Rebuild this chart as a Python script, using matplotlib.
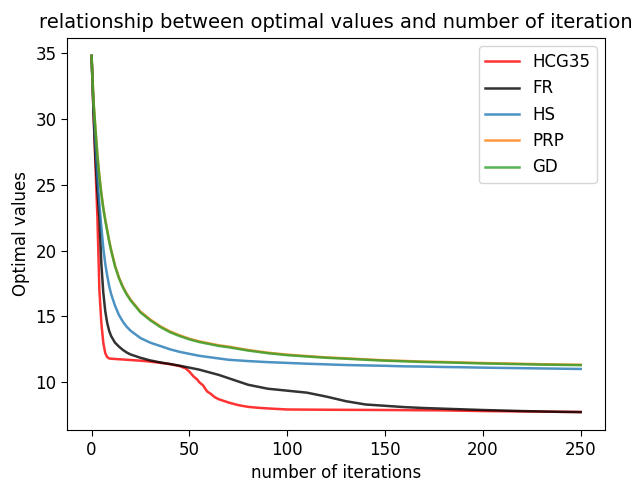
import matplotlib
matplotlib.use("Agg")
import matplotlib.pyplot as plt

# iteration positions used for the smooth methods
it_common = [0, 1, 2, 3, 4, 5, 6, 7, 8, 9, 10, 12, 14, 16, 18, 20, 25, 30, 35, 40, 45, 50,
             55, 60, 65, 70, 80, 90, 100, 110, 120, 130, 140, 150, 160, 170, 180, 190,
             200, 210, 220, 230, 240, 250]

gd = [34.8, 31.3, 29.2, 27.2, 25.6, 24.3, 23.2, 22.3, 21.5, 20.7, 20.0, 18.8, 17.9, 17.2,
      16.65, 16.2, 15.3, 14.7, 14.2, 13.8, 13.5, 13.25, 13.05, 12.9, 12.75, 12.65, 12.4,
      12.2, 12.05, 11.95, 11.85, 11.78, 11.7, 11.63, 11.58, 11.53, 11.5, 11.46, 11.42,
      11.39, 11.36, 11.33, 11.31, 11.29]

prp = [34.8, 31.35, 29.25, 27.26, 25.66, 24.36, 23.26, 22.36, 21.56, 20.76, 20.06, 18.86,
       17.96, 17.26, 16.71, 16.26, 15.36, 14.76, 14.26, 13.86, 13.56, 13.3, 13.1, 12.95,
       12.8, 12.7, 12.44, 12.24, 12.09, 11.98, 11.88, 11.81, 11.73, 11.66, 11.61, 11.56,
       11.53, 11.49, 11.45, 11.42, 11.39, 11.36, 11.34, 11.32]

hs = [34.8, 31.0, 28.0, 25.5, 23.5, 21.8, 20.2, 19.0, 18.1, 17.3, 16.7, 15.8, 15.1, 14.6,
      14.2, 13.9, 13.35, 13.0, 12.75, 12.5, 12.3, 12.15, 12.0, 11.9, 11.8, 11.7, 11.6,
      11.52, 11.46, 11.4, 11.35, 11.3, 11.27, 11.24, 11.2, 11.18, 11.15, 11.13, 11.1,
      11.08, 11.06, 11.04, 11.02, 11.0]

fr = [34.8, 30.5, 27.0, 24.5, 22.5, 19.0, 16.8, 15.4, 14.5, 13.9, 13.5, 13.0, 12.7, 12.45,
      12.25, 12.1, 11.85, 11.65, 11.5, 11.38, 11.25, 11.1, 10.95, 10.75, 10.55, 10.3, 9.8,
      9.5, 9.35, 9.2, 8.9, 8.55, 8.3, 8.2, 8.1, 8.03, 7.98, 7.93, 7.88, 7.84, 7.8, 7.77,
      7.74, 7.72]

# HCG35 has its own iteration positions (sharp corner and step-down region)
it_hcg = [0, 1, 2, 3, 4, 5, 6, 7, 8, 9, 10, 14, 20, 25, 30, 35, 40, 45, 48, 50, 52, 54,
          55, 57, 59, 61, 63, 65, 70, 75, 80, 85, 90, 100, 120, 150, 180, 200, 220, 250]
hcg35 = [34.8, 30.5, 26.5, 22.5, 17.0, 14.5, 13.0, 12.2, 11.9, 11.8, 11.78, 11.74, 11.68,
         11.63, 11.56, 11.47, 11.37, 11.22, 11.05, 10.8, 10.45, 10.2, 10.0, 9.75, 9.3,
         9.1, 8.85, 8.7, 8.45, 8.25, 8.12, 8.05, 8.0, 7.92, 7.9, 7.88, 7.85, 7.8, 7.77,
         7.73]

title = "relationship between optimal values and number of iteration"
xlabel = "number of iterations"
ylabel = "Optimal values"

fig = plt.figure(figsize=(6.33, 4.88), dpi=100)
ax = fig.add_axes([0.106, 0.119, 0.850, 0.803])
lw = 1.8
ax.plot(it_hcg, hcg35, color="red", alpha=0.8, lw=lw, label="HCG35")
ax.plot(it_common, fr, color="black", alpha=0.8, lw=lw, label="FR")
ax.plot(it_common, hs, color="tab:blue", alpha=0.8, lw=lw, label="HS")
ax.plot(it_common, prp, color="tab:orange", alpha=0.8, lw=lw, label="PRP")
ax.plot(it_common, gd, color="tab:green", alpha=0.8, lw=lw, label="GD")
ax.set_title(title, fontsize=14, pad=7)
ax.set_xlabel(xlabel, fontsize=12)
ax.set_ylabel(ylabel, fontsize=12)
ax.set_xticks([0, 50, 100, 150, 200, 250])
ax.set_yticks([10, 15, 20, 25, 30, 35])
ax.tick_params(labelsize=12, length=4.2)
ax.legend(loc="upper right", fontsize=12)
fig.savefig("out.png", dpi=100)
